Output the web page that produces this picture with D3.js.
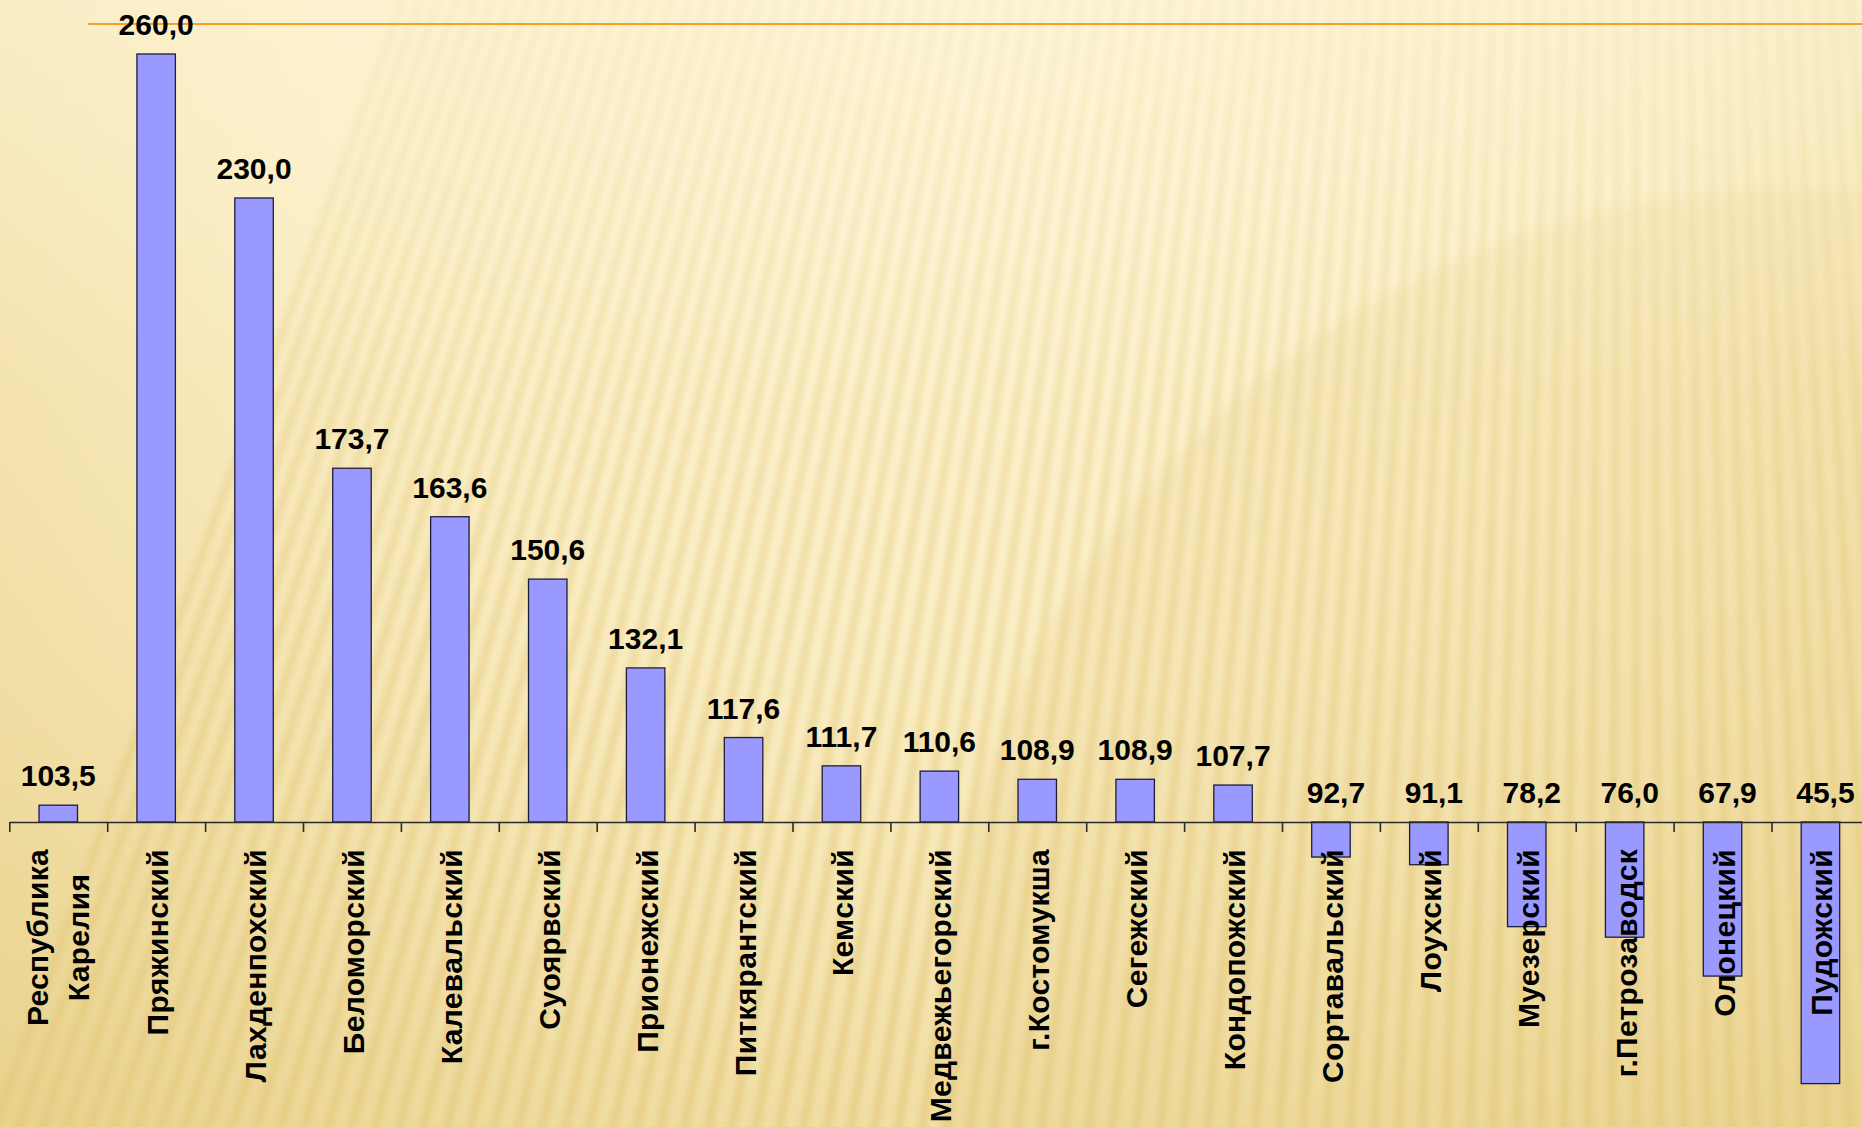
<!DOCTYPE html>
<html>
<head>
<meta charset="utf-8">
<script src="https://cdn.jsdelivr.net/npm/d3@7"></script>
<style>
  html, body { margin: 0; padding: 0; overflow: hidden; background: #FBF0C6; }
  svg { display: block; }
  text { font-family: "Liberation Sans", Arial, sans-serif; font-weight: bold; fill: #000; }
</style>
</head>
<body>
<svg id="chart" width="1862" height="1127"></svg>
<script>
// ---- data ----
const categories = [
  ["Республика", "Карелия"], ["Пряжинский"], ["Лахденпохский"], ["Беломорский"],
  ["Калевальский"], ["Суоярвский"], ["Прионежский"], ["Питкярантский"], ["Кемский"],
  ["Медвежьегорский"], ["г.Костомукша"], ["Сегежский"], ["Кондопожский"],
  ["Сортавальский"], ["Лоухский"], ["Муезерский"], ["г.Петрозаводск"], ["Олонецкий"], ["Пудожский"]
];
const values = [103.5, 260.0, 230.0, 173.7, 163.6, 150.6, 132.1, 117.6, 111.7, 110.6,
                108.9, 108.9, 107.7, 92.7, 91.1, 78.2, 76.0, 67.9, 45.5];
const baseValue = 100;
const valueLabels = values.map(v => v.toFixed(1).replace(".", ","));

// ---- setup ----
const W = 1862, H = 1127;
const svg = d3.select("#chart");
const defs = svg.append("defs");

// background gradient
const bg = defs.append("radialGradient").attr("id", "bgGrad")
  .attr("gradientUnits", "userSpaceOnUse").attr("cx", 1000).attr("cy", 0).attr("r", 1500);
bg.append("stop").attr("offset", "0").attr("stop-color", "#FEF5D6");
bg.append("stop").attr("offset", "0.45").attr("stop-color", "#FAEDC2");
bg.append("stop").attr("offset", "1").attr("stop-color", "#E9D28C");
svg.append("rect").attr("width", W).attr("height", H).attr("fill", "url(#bgGrad)");

// fan stripes (stronger toward the bottom)
defs.append("filter").attr("id", "blur").append("feGaussianBlur").attr("stdDeviation", 2.5);
const stripeMaskGrad = defs.append("linearGradient").attr("id", "stripeMaskGrad")
  .attr("x1", 0).attr("y1", 0).attr("x2", 0).attr("y2", 1);
stripeMaskGrad.append("stop").attr("offset", "0").attr("stop-color", "#fff").attr("stop-opacity", 0.45);
stripeMaskGrad.append("stop").attr("offset", "1").attr("stop-color", "#fff").attr("stop-opacity", 1);
defs.append("mask").attr("id", "stripeMask").attr("maskUnits", "userSpaceOnUse")
  .attr("x", 0).attr("y", 0).attr("width", W).attr("height", H)
  .append("rect").attr("width", W).attr("height", H).attr("fill", "url(#stripeMaskGrad)");
const fx = 1635, fy = -3400;
const stripeG = svg.append("g").attr("mask", "url(#stripeMask)")
  .append("g").attr("filter", "url(#blur)").attr("opacity", 0.6);
d3.range(-20, 1980, 24).forEach(xb => {
  stripeG.append("line")
    .attr("x1", fx).attr("y1", fy).attr("x2", xb).attr("y2", H + 40)
    .attr("stroke", "#E3C87C").attr("stroke-width", 9);
});
// subtle disc on the right
const disc = defs.append("radialGradient").attr("id", "discGrad")
  .attr("gradientUnits", "userSpaceOnUse").attr("cx", 1800).attr("cy", 1050).attr("r", 870);
disc.append("stop").attr("offset", "0").attr("stop-color", "#E3C77A").attr("stop-opacity", 0.12);
disc.append("stop").attr("offset", "0.98").attr("stop-color", "#E3C77A").attr("stop-opacity", 0.22);
disc.append("stop").attr("offset", "1").attr("stop-color", "#E3C77A").attr("stop-opacity", 0);
svg.append("circle").attr("cx", 1800).attr("cy", 1050).attr("r", 870).attr("fill", "url(#discGrad)");
// lighten the top area
const topGrad = defs.append("linearGradient").attr("id", "topGrad").attr("x1", 0).attr("y1", 0).attr("x2", 0).attr("y2", 1);
topGrad.append("stop").attr("offset", "0").attr("stop-color", "#FEF6DA").attr("stop-opacity", 0.55);
topGrad.append("stop").attr("offset", "0.35").attr("stop-color", "#FEF6DA").attr("stop-opacity", 0.12);
topGrad.append("stop").attr("offset", "1").attr("stop-color", "#FEF6DA").attr("stop-opacity", 0);
svg.append("rect").attr("width", W).attr("height", H).attr("fill", "url(#topGrad)");

// orange title rule
svg.append("line").attr("x1", 88).attr("x2", W).attr("y1", 24).attr("y2", 24)
  .attr("stroke", "#F5A02E").attr("stroke-width", 2);

// ---- scales ----
const x = d3.scaleBand().domain(d3.range(values.length))
  .range([9.3, 9.3 + 97.9 * values.length]).paddingInner(0.607).paddingOuter(0.3035);
const y = d3.scaleLinear().domain([baseValue, 260]).range([822, 54]);
const step = x.step();
const x0 = 9.3;

// bars
svg.append("g").selectAll("rect").data(values).join("rect")
  .attr("x", (d, i) => x(i))
  .attr("width", x.bandwidth())
  .attr("y", d => y(Math.max(d, baseValue)))
  .attr("height", d => Math.abs(y(d) - y(baseValue)))
  .attr("fill", "#9999FF").attr("stroke", "#1E1E3A").attr("stroke-width", 1.3);

// axis (category boundaries as ticks)
const tickScale = d3.scaleLinear().domain([0, values.length]).range([x0, x0 + step * values.length]);
const axis = d3.axisBottom(tickScale).tickValues(d3.range(0, values.length + 1))
  .tickSize(10).tickSizeOuter(0).tickFormat("");
const axG = svg.append("g").attr("transform", `translate(0,${y(baseValue)})`).call(axis);
axG.select(".domain").attr("stroke", "#2a2a2a").attr("stroke-width", 1.6);
axG.selectAll(".tick line").attr("stroke", "#2a2a2a").attr("stroke-width", 1.6);

// value labels
svg.append("g").selectAll("text").data(values).join("text")
  .attr("x", (d, i) => x(i) + x.bandwidth() / 2 + (d < baseValue ? 5 : 0))
  .attr("y", d => y(Math.max(d, baseValue)) - 19)
  .attr("text-anchor", "middle")
  .style("font-size", "30px")
  .text((d, i) => valueLabels[i]);

// category labels (rotated)
const catG = svg.append("g").selectAll("g").data(categories).join("g")
  .attr("transform", (d, i) => `translate(${x(i) + x.bandwidth() / 2},849) rotate(-90)`);
catG.each(function (lines) {
  const g = d3.select(this);
  const n = lines.length;
  const texts = lines.map((t, k) => g.append("text")
    .attr("y", n === 1 ? 12 : (k === 0 ? -10 : 31))
    .attr("text-anchor", "end")
    .style("font-size", "30px")
    .style("letter-spacing", "0.3px")
    .text(t));
  if (n > 1) {
    const lens = texts.map(t => t.node().getComputedTextLength());
    const maxL = d3.max(lens);
    texts.forEach((t, k) => t.attr("x", -(maxL - lens[k]) / 2));
  }
});
</script>
</body>
</html>
